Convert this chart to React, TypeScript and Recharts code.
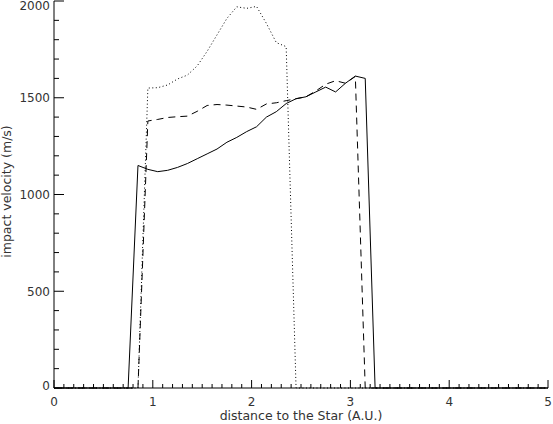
import React from 'react';
import { LineChart, Line, XAxis, YAxis } from 'recharts';

// distance to the star (A.U.)
const distance = [
  0, 0.75, 0.85, 0.95, 1.05, 1.15, 1.25, 1.35, 1.45, 1.55, 1.65, 1.75, 1.85, 1.95,
  2.05, 2.15, 2.25, 2.35, 2.45, 2.55, 2.65, 2.75, 2.85, 2.95, 3.05, 3.15, 3.25, 5,
];

// impact velocity (m/s)
const solidVel = [
  0, 0, 1150, 1130, 1118, 1125, 1140, 1160, 1185, 1210, 1235, 1270, 1295, 1325,
  1350, 1400, 1428, 1470, 1495, 1505, 1530, 1555, 1530, 1575, 1612, 1600, 0, 0,
];
const dashedVel = [
  0, 0, 0, 1380, 1388, 1398, 1402, 1405, 1430, 1460, 1465, 1462, 1457, 1452,
  1440, 1468, 1474, 1485, 1495, 1505, 1535, 1570, 1588, 1575, 1610, 0, 0, 0,
];
const dottedVel = [
  0, 0, 0, 1550, 1552, 1566, 1597, 1617, 1665, 1740, 1825, 1910, 1970, 1962,
  1972, 1884, 1785, 1764, 0, 0, 0, 0, 0, 0, 0, 0, 0, 0,
];

const xMajor = [0, 1, 2, 3, 4, 5];
const yMajor = [0, 500, 1000, 1500, 2000];

const data = distance.map((d, i) => ({
  d,
  solid: solidVel[i],
  dashed: dashedVel[i],
  dotted: dottedVel[i],
}));

// minor ticks: 10 per unit on x, 5 per 500 on y
const xTicks: number[] = [];
for (let k = 0; k <= 50; k++) xTicks.push(k / 10);
const yTicks: number[] = [];
for (let k = 0; k <= 20; k++) yTicks.push(k * 100);

const FONT = '"DejaVu Sans", sans-serif';
const INK = '#000';
const TXT = '#333';

const isMajorX = (v: number) => xMajor.some((m) => Math.abs(m - v) < 1e-6);
const isMajorY = (v: number) => yMajor.includes(v);

const BottomTick = (props: any) => {
  const { x, y, payload } = props;
  const major = isMajorX(payload.value);
  return (
    <g>
      <line x1={x} y1={y} x2={x} y2={y - (major ? 8 : 4)} stroke={INK} />
      {major && (
        <text x={x} y={y + 17.5} textAnchor="middle" fontFamily={FONT} fontSize={12} fill={TXT}>
          {Math.round(payload.value)}
        </text>
      )}
    </g>
  );
};

const TopTick = (props: any) => {
  const { x, y, payload } = props;
  const major = isMajorX(payload.value);
  return <line x1={x} y1={y} x2={x} y2={y + (major ? 8 : 4)} stroke={INK} />;
};

const LeftTick = (props: any) => {
  const { x, y, payload } = props;
  const major = isMajorY(payload.value);
  // keep end labels inside the frame like the original
  const ty = Math.min(Math.max(y + 4.5, 10), 389.5);
  return (
    <g>
      <line x1={x} y1={y} x2={x + (major ? 10 : 5)} y2={y} stroke={INK} />
      {major && (
        <text x={x - 4} y={ty} textAnchor="end" fontFamily={FONT} fontSize={12} fill={TXT}>
          {payload.value}
        </text>
      )}
    </g>
  );
};

const RightTick = (props: any) => {
  const { x, y, payload } = props;
  const major = isMajorY(payload.value);
  return <line x1={x} y1={y} x2={x - (major ? 10 : 5)} y2={y} stroke={INK} />;
};

const XTitle = (props: any) => {
  const vb = props.viewBox;
  return (
    <text x={vb.x + vb.width / 2} y={vb.y + 32} textAnchor="middle" fontFamily={FONT} fontSize={12.5} fill={TXT}>
      distance to the Star (A.U.)
    </text>
  );
};

const YTitle = (props: any) => {
  const vb = props.viewBox;
  const cx = 11;
  const cy = vb.y + vb.height / 2 - 3;
  return (
    <text
      x={cx}
      y={cy}
      transform={`rotate(-90 ${cx} ${cy})`}
      textAnchor="middle"
      fontFamily={FONT}
      fontSize={12.5}
      fill={TXT}
    >
      impact velocity (m/s)
    </text>
  );
};

export default function App() {
  return (
    <div style={{ position: 'absolute', left: 0, top: 0, width: 553, height: 424, background: '#fff' }}>
      <LineChart width={553} height={424} data={data} margin={{ top: 1, right: 5, left: 0, bottom: 0 }}>
        <XAxis
          dataKey="d"
          type="number"
          domain={[0, 5]}
          ticks={xTicks}
          interval={0}
          height={36}
          tickSize={0}
          tickMargin={0}
          tick={BottomTick}
          axisLine={{ stroke: INK }}
          label={XTitle}
        />
        <XAxis
          xAxisId="top"
          orientation="top"
          dataKey="d"
          type="number"
          domain={[0, 5]}
          ticks={xTicks}
          interval={0}
          height={0}
          tickSize={0}
          tickMargin={0}
          tick={TopTick}
          axisLine={{ stroke: INK }}
        />
        <YAxis
          type="number"
          domain={[0, 2000]}
          ticks={yTicks}
          interval={0}
          width={54}
          tickSize={0}
          tickMargin={0}
          tick={LeftTick}
          axisLine={{ stroke: INK }}
          label={YTitle}
        />
        <YAxis
          yAxisId="right"
          orientation="right"
          type="number"
          domain={[0, 2000]}
          ticks={yTicks}
          interval={0}
          width={0}
          tickSize={0}
          tickMargin={0}
          tick={RightTick}
          axisLine={{ stroke: INK }}
        />
        <Line type="linear" dataKey="solid" stroke={INK} strokeWidth={1} dot={false} isAnimationActive={false} />
        <Line
          type="linear"
          dataKey="dashed"
          stroke={INK}
          strokeWidth={1}
          strokeDasharray="7 5"
          dot={false}
          isAnimationActive={false}
        />
        <Line
          type="linear"
          dataKey="dotted"
          stroke={INK}
          strokeWidth={1}
          strokeDasharray="1 2.5"
          dot={false}
          isAnimationActive={false}
        />
      </LineChart>
    </div>
  );
}
